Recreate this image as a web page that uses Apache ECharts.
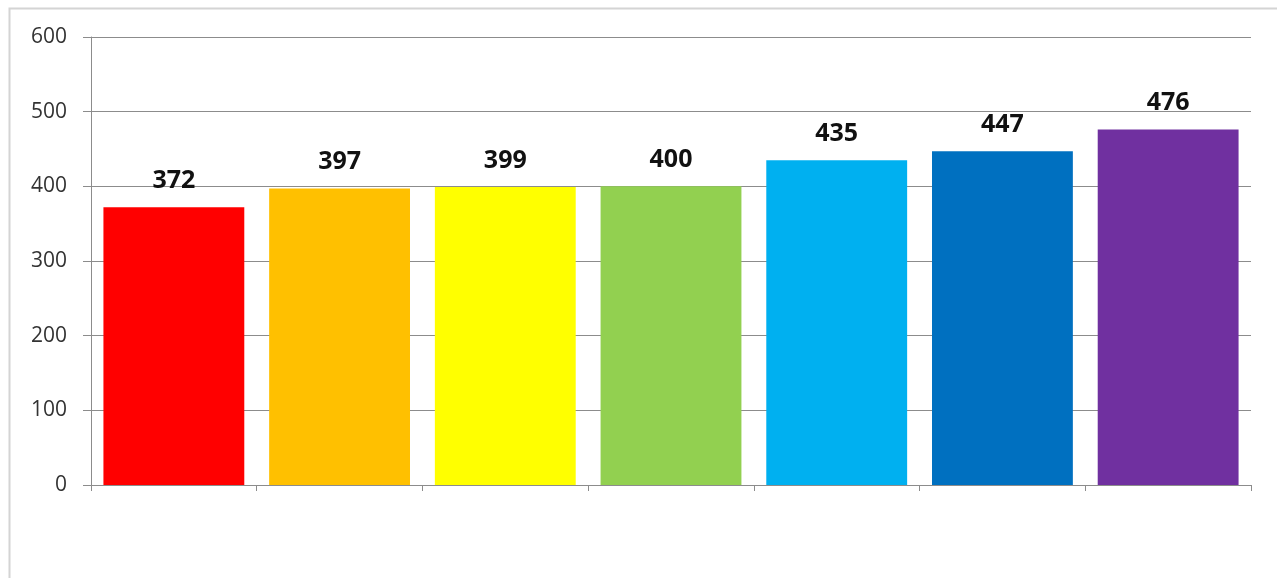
<!DOCTYPE html>
<html>
<head>
<meta charset="utf-8">
<script src="https://cdn.jsdelivr.net/npm/echarts@6/dist/echarts.min.js"></script>
<style>
  html, body { margin: 0; padding: 0; background: #fff; }
  #chart { width: 1277px; height: 578px; }
</style>
</head>
<body>
<div id="chart"></div>
<script>
// category names are pixelated in the source, so they stay blank
const categories = ['', '', '', '', '', '', ''];
const values = [372, 397, 399, 400, 435, 447, 476];
const barColors = ['#ff0000', '#ffc000', '#ffff00', '#92d050', '#00b0f0', '#0070c0', '#7030a0'];
const yTicks = { min: 0, max: 600, interval: 100 };

const chart = echarts.init(document.getElementById('chart'));

const option = {
    animation: false,
    textStyle: { fontFamily: 'Open Sans' },
    grid: {
        left: 91,
        right: 26,
        top: 37,
        bottom: 93
    },
    graphic: [
        {
            type: 'rect',
            shape: { x: 9.5, y: 8.5, width: 1300, height: 640 },
            style: { fill: 'none', stroke: '#d4d4d4', lineWidth: 2 },
            silent: true
        }
    ],
    xAxis: {
        type: 'category',
        data: categories,
        axisLine: { lineStyle: { color: '#8c8c8c', width: 1 } },
        axisTick: { show: true, length: 6, lineStyle: { color: '#8c8c8c' } },
        axisLabel: { show: false }
    },
    yAxis: {
        type: 'value',
        min: yTicks.min,
        max: yTicks.max,
        interval: yTicks.interval,
        axisLine: { show: true, lineStyle: { color: '#8c8c8c' } },
        axisTick: { show: true, length: 8, lineStyle: { color: '#8c8c8c' } },
        splitLine: { lineStyle: { color: '#8c8c8c', width: 1 } },
        axisLabel: {
            color: '#333333',
            fontSize: 21,
            margin: 24
        }
    },
    series: [
        {
            type: 'bar',
            data: values.map((v, i) => ({ value: v, itemStyle: { color: barColors[i] } })),
            barCategoryGap: '15%',
            label: {
                show: true,
                position: 'top',
                distance: 14,
                color: '#111111',
                fontWeight: 'bold',
                fontSize: 25
            }
        }
    ]
};

chart.setOption(option);
window.addEventListener('resize', function () {
    chart.resize();
});
</script>
</body>
</html>
